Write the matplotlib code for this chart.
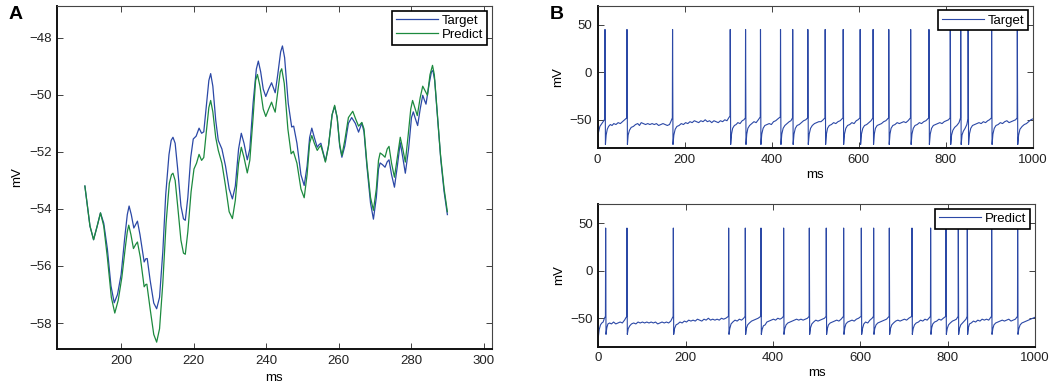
import matplotlib
matplotlib.use("Agg")
import matplotlib.pyplot as plt

plt.rcParams['font.family'] = ['Liberation Sans', 'DejaVu Sans']
plt.rcParams['font.size'] = 9.5

# ---- panel A: zoomed membrane potential (ms, mV) ----
a_target = [
    (190, -53.2), (190.6, -53.8), (191.4, -54.6), (192.4, -55.08), (193.4, -54.6), (194.3, -54.14),
    (195.2, -54.5), (196.2, -55.4), (197.2, -56.7), (198.1, -57.29), (199, -57.0), (200, -56.3),
    (201, -55.0), (201.7, -54.2), (202.2, -53.9), (202.8, -54.2), (203.5, -54.67), (204, -54.55),
    (204.5, -54.43), (205.2, -54.9), (206.35, -55.86), (206.8, -55.75), (207.2, -55.74), (208, -56.5),
    (209, -57.3), (209.8, -57.5), (210.6, -57.1), (211.5, -55.5), (212.3, -53.5), (213.2, -52.1),
    (213.8, -51.6), (214.3, -51.49), (214.9, -51.7), (215.6, -52.6), (216.5, -53.9), (217.2, -54.35),
    (217.7, -54.4), (218.4, -53.6), (219.2, -52.2), (219.9, -51.55), (220.7, -51.45), (221.5, -51.17),
    (222.2, -51.35), (222.8, -51.3), (223.5, -50.4), (224.2, -49.5), (224.7, -49.26), (225.3, -49.7),
    (226.1, -50.9), (226.8, -51.6), (227.8, -51.9), (228.8, -52.5), (229.8, -53.3), (230.7, -53.65),
    (231.5, -53.2), (232.4, -51.9), (233.15, -51.35), (233.9, -51.7), (234.8, -52.28), (235.5, -51.9),
    (236.4, -50.3), (237.3, -49.1), (237.85, -48.82), (238.5, -49.2), (239.2, -49.8), (239.9, -50.06),
    (240.7, -49.8), (241.5, -49.58), (242, -49.75), (242.5, -49.93), (243.2, -49.3), (244, -48.5),
    (244.5, -48.29), (245.1, -48.7), (246.1, -50.3), (247.05, -51.13), (247.6, -51.1), (248.5, -51.7),
    (249.6, -52.8), (250.5, -53.18), (251.3, -52.5), (252, -51.5), (252.6, -51.17), (253.3, -51.5),
    (254.1, -51.84), (254.6, -51.75), (255.1, -51.7), (255.7, -52.0), (256.35, -52.33), (257.2, -51.8),
    (258.2, -50.7), (258.9, -50.41), (259.6, -50.8), (260.3, -51.8), (260.9, -52.19), (261.7, -51.8),
    (262.7, -51.0), (263.6, -50.8), (264.6, -51.0), (265.5, -51.31), (266.4, -50.99), (267, -51.3),
    (267.8, -52.5), (268.8, -53.8), (269.6, -54.36), (270.4, -53.6), (271, -52.6), (271.45, -52.39),
    (272.1, -52.45), (272.8, -52.54), (273.4, -52.35), (273.9, -52.28), (274.6, -52.8), (275.4, -53.24),
    (276.2, -52.5), (277, -51.68), (277.7, -52.2), (278.4, -52.75), (279.3, -51.9), (280.1, -50.8),
    (280.6, -50.6), (281.2, -50.85), (281.8, -51.08), (282.5, -50.5), (283.2, -50.02), (283.7, -50.2),
    (284.1, -50.33), (285, -49.6), (285.6, -49.2), (286.0, -49.15), (286.5, -49.5), (287.3, -50.8),
    (288.2, -52.3), (289.1, -53.4), (290, -54.2),
]
a_predict = [
    (190, -53.2), (190.6, -53.8), (191.4, -54.6), (192.4, -55.08), (193.4, -54.6), (194.3, -54.14),
    (195.2, -54.6), (196.2, -55.7), (197.3, -57.1), (198.25, -57.65), (199.2, -57.2), (200.2, -56.4),
    (201.2, -55.3), (201.7, -54.8), (202.1, -54.57), (202.7, -54.9), (203.4, -55.39), (204, -55.25),
    (204.5, -55.16), (205.3, -55.7), (206.35, -56.73), (206.8, -56.65), (207.1, -56.64), (208, -57.5),
    (209, -58.4), (209.8, -58.67), (210.6, -58.2), (211.5, -56.6), (212.4, -54.5), (213.3, -53.1),
    (213.9, -52.8), (214.3, -52.75), (214.9, -53.0), (215.6, -53.9), (216.5, -55.1), (217.2, -55.55),
    (217.7, -55.59), (218.4, -54.8), (219.3, -53.4), (220.1, -52.6), (220.8, -52.4), (221.5, -52.09),
    (222.2, -52.3), (222.8, -52.2), (223.5, -51.3), (224.2, -50.45), (224.7, -50.2), (225.3, -50.6),
    (226.1, -51.5), (226.8, -51.95), (227.8, -52.4), (228.8, -53.2), (229.8, -54.1), (230.7, -54.34),
    (231.5, -53.7), (232.4, -52.4), (233.15, -51.84), (233.9, -52.2), (234.8, -52.74), (235.5, -52.3),
    (236.4, -50.8), (237.1, -49.5), (237.6, -49.29), (238.3, -49.7), (239.2, -50.5), (239.9, -50.76),
    (240.7, -50.5), (241.5, -50.26), (242, -50.45), (242.5, -50.61), (243.2, -49.9), (243.9, -49.2),
    (244.3, -49.09), (245, -49.6), (246, -51.2), (246.9, -52.07), (247.5, -51.98), (248.5, -52.4),
    (249.6, -53.3), (250.5, -53.61), (251.3, -52.8), (252, -51.7), (252.6, -51.43), (253.3, -51.7),
    (254.1, -51.95), (254.6, -51.85), (255.1, -51.78), (255.7, -52.05), (256.35, -52.36), (257.2, -51.8),
    (258.2, -50.7), (258.9, -50.37), (259.6, -50.8), (260.3, -51.75), (260.9, -52.13), (261.7, -51.6),
    (262.7, -50.8), (263.9, -50.58), (264.7, -50.85), (265.5, -51.1), (266.4, -50.97), (267, -51.2),
    (267.8, -52.4), (268.8, -53.6), (269.6, -54.05), (270.4, -53.3), (271, -52.3), (271.45, -52.04),
    (272.1, -52.1), (272.8, -52.19), (273.4, -51.9), (273.9, -51.81), (274.6, -52.4), (275.4, -52.89),
    (276.2, -52.2), (277, -51.49), (277.7, -51.9), (278.4, -52.36), (279.2, -51.4), (279.9, -50.5),
    (280.4, -50.2), (281, -50.45), (281.7, -50.73), (282.5, -50.1), (283.2, -49.7), (283.8, -49.85),
    (284.5, -50.02), (285.2, -49.3), (285.9, -48.97), (286.4, -49.3), (287.2, -50.6), (288.1, -52.1),
    (289.1, -53.3), (290, -54.1),
]

# ---- panel B: full 1 s traces (ms, mV) ----
b_target = [
    (0, -68), (2, -63), (5, -57), (8, -55), (11, -53), (14, -51), (16.3, -49), (16.8, 45), (17.8, -76),
    (19.5, -66), (22, -60), (25, -57), (29, -55), (33, -56), (37, -54), (42, -55), (47, -53), (52, -54),
    (57, -52), (62, -50), (66.8, -48), (67.3, 45), (68.3, -76), (70, -66), (73, -61), (77, -58), (82, -57),
    (87, -55), (92, -54), (96, -56), (100, -53), (105, -54), (110, -55), (115, -54), (120, -55), (125, -54),
    (130, -55), (135, -54), (140, -56), (145, -55), (150, -54), (155, -55), (160, -56), (165, -55),
    (168, -52), (171.5, -48), (172, 45), (173, -76), (175, -66), (178, -60), (182, -57), (187, -56),
    (192, -54), (197, -55), (202, -53), (207, -54), (212, -52), (217, -53), (222, -51), (227, -52),
    (232, -53), (237, -51), (242, -52), (247, -50), (252, -52), (257, -51), (262, -53), (267, -51),
    (272, -52), (277, -53), (282, -51), (287, -52), (292, -50), (297, -51), (301, -48), (304, -46),
    (304.5, 45), (305.5, -76), (307.5, -65), (310, -59), (314, -56), (318, -55), (322, -53), (327, -54),
    (332, -51), (336, -50), (339.2, -48), (339.7, 45), (340.7, -76), (342.5, -65), (345, -59), (349, -56),
    (354, -54), (359, -52), (364, -53), (369, -50), (373.5, -47), (374, 45), (375, -76), (377, -65),
    (380, -59), (384, -56), (389, -55), (394, -54), (399, -55), (404, -52), (409, -51), (414, -49),
    (419.5, -47), (420, 45), (421, -76), (423, -65), (426, -59), (430, -56), (435, -54), (440, -52),
    (444, -51), (447.5, -48), (448, 45), (449, -76), (451, -65), (454, -59), (458, -56), (463, -55),
    (468, -53), (473, -51), (478, -50), (482.3, -48), (482.8, 45), (483.8, -76), (486, -65), (489, -59),
    (493, -56), (498, -54), (503, -53), (508, -52), (513, -52), (518, -50), (522.1, -48), (522.6, 45),
    (523.6, -76), (525.5, -65), (528, -59), (532, -56), (537, -55), (542, -53), (547, -54), (552, -52),
    (557, -51), (563.5, -48), (564, 45), (565, -76), (567, -65), (570, -59), (574, -56), (579, -55),
    (584, -53), (589, -54), (594, -51), (598, -50), (602.5, -48), (603, 45), (604, -76), (606, -65),
    (609, -59), (613, -56), (618, -55), (623, -53), (628, -51), (632.2, -48), (632.7, 45), (633.7, -76),
    (635.5, -65), (638, -59), (642, -56), (647, -55), (652, -54), (657, -52), (662, -51), (668.2, -48),
    (668.7, 45), (669.7, -76), (671.5, -65), (674, -59), (678, -56), (683, -55), (688, -53), (693, -54),
    (698, -53), (703, -52), (708, -53), (713, -51), (718.5, -48), (719, 45), (720, -76), (722, -65),
    (725, -59), (729, -56), (734, -55), (739, -53), (744, -54), (749, -52), (754, -51), (760.5, -48),
    (761, 45), (762, -76), (764, -65), (767, -59), (771, -56), (776, -55), (781, -54), (786, -53),
    (791, -54), (796, -52), (801, -51), (806, -50), (809.5, -48), (810, 45), (811, -76), (813, -66),
    (816, -61), (820, -58), (825, -56), (830, -53), (833.5, -48), (834, 45), (835, -76), (837, -66),
    (840, -62), (844, -59), (848, -55), (850.5, -49), (851, 45), (852, -76), (854, -65), (857, -59),
    (861, -56), (866, -55), (871, -54), (876, -53), (881, -54), (886, -52), (891, -53), (896, -51),
    (900, -50), (904.5, -48), (905, 45), (906, -76), (908, -65), (911, -59), (915, -56), (920, -55),
    (925, -53), (930, -54), (935, -52), (940, -51), (945, -53), (950, -52), (955, -51), (960, -50),
    (963.5, -48), (964, 45), (965, -76), (967, -66), (970, -60), (975, -57), (980, -55), (985, -54),
    (990, -52), (995, -50), (1000, -49),
]
b_predict = [
    (0, -70), (2, -62), (5, -57), (8, -55), (11, -54), (14, -50), (16.3, -48), (16.8, 45), (17.6, -67),
    (19.5, -60), (22, -56), (26, -55), (30, -56), (35, -54), (40, -56), (45, -55), (50, -54), (55, -55),
    (60, -52), (65.1, -48), (65.6, 45), (66.4, -67), (68.5, -61), (72, -58), (76, -56), (81, -55),
    (86, -56), (91, -54), (96, -55), (101, -54), (106, -55), (111, -54), (116, -55), (121, -54),
    (126, -55), (131, -54), (136, -56), (141, -55), (146, -54), (151, -55), (156, -54), (161, -55),
    (166, -53), (171.3, -48), (171.8, 45), (172.6, -67), (174.5, -61), (178, -57), (182, -56), (187, -54),
    (192, -55), (197, -53), (202, -54), (207, -52), (212, -53), (217, -52), (222, -53), (227, -51),
    (232, -52), (237, -53), (242, -51), (247, -52), (252, -50), (257, -52), (262, -51), (267, -52),
    (272, -51), (277, -52), (282, -50), (287, -51), (292, -50), (298, -48), (298.5, 45), (299.3, -67),
    (301, -61), (304, -56), (308, -54), (313, -52), (318, -53), (323, -51), (328, -52), (333, -50),
    (336.1, -48), (336.6, 45), (337.4, -67), (339, -61), (342, -57), (346, -55), (351, -53), (356, -52),
    (361, -51), (366, -50), (372, -48), (372.5, 45), (373.3, -67), (375, -62), (378, -58), (382, -57),
    (386, -54), (391, -53), (396, -52), (401, -51), (406, -52), (411, -50), (416, -51), (420, -50),
    (424, -48), (424.4, 45), (425.2, -67), (427, -61), (430, -57), (434, -55), (439, -54), (444, -53),
    (449, -52), (454, -51), (459, -52), (464, -51), (469, -52), (474, -51), (479, -50), (482.8, -48),
    (483.2, 45), (484, -67), (486, -60), (489, -56), (493, -54), (498, -52), (503, -53), (508, -52),
    (513, -51), (518, -50), (521.6, -48), (522, 45), (522.8, -67), (524.5, -61), (527, -57), (531, -55),
    (536, -54), (541, -53), (546, -52), (551, -53), (556, -51), (561.4, -48), (561.8, 45), (562.6, -67),
    (564.5, -60), (567, -56), (571, -54), (576, -53), (581, -52), (586, -53), (591, -51), (596, -50),
    (601.9, -48), (602.3, 45), (603.1, -67), (605, -61), (608, -56), (612, -54), (617, -55), (622, -52),
    (627, -50), (630.1, -48), (630.5, 45), (631.3, -67), (633, -61), (636, -57), (640, -55), (645, -54),
    (650, -53), (655, -52), (660, -51), (666, -48), (666.4, 45), (667.2, -67), (669, -61), (672, -57),
    (676, -55), (681, -53), (686, -52), (691, -53), (696, -52), (701, -51), (706, -52), (711, -50),
    (717.9, -48), (718.3, 45), (719.1, -67), (721, -61), (724, -57), (728, -55), (733, -54), (738, -52),
    (743, -53), (748, -51), (753, -52), (757, -50), (760.6, -48), (761, 45), (761.8, -67), (763.5, -60),
    (766, -56), (770, -54), (775, -53), (780, -51), (785, -52), (790, -50), (795.8, -48), (796.2, 45),
    (797, -67), (799, -61), (802, -57), (806, -55), (811, -53), (816, -52), (820, -51), (824, -48),
    (824.4, 45), (825.2, -67), (827, -61), (830, -57), (834, -55), (838, -53), (842, -51), (844.6, -48),
    (845, 45), (845.8, -67), (847.5, -60), (850, -56), (854, -55), (859, -53), (864, -54), (869, -52),
    (874, -53), (879, -51), (884, -52), (889, -51), (894, -52), (900.4, -48), (900.8, 45), (901.6, -67),
    (903.5, -61), (906, -57), (910, -55), (915, -54), (920, -53), (925, -52), (930, -53), (935, -52),
    (940, -51), (945, -53), (950, -52), (955, -51), (959.9, -48), (960.3, 45), (961.1, -67), (963, -61),
    (966, -57), (970, -55), (975, -54), (980, -53), (985, -52), (990, -51), (995, -50), (1000, -49),
]

a_xticks = [200, 220, 240, 260, 280, 300]
a_yticks = [-58, -56, -54, -52, -50, -48]
b_xticks = [0, 200, 400, 600, 800, 1000]
b_yticks = [-50, 0, 50]

BLUE = '#2b48a6'
GREEN = '#1c8a3e'


def style(ax):
    ax.tick_params(direction='in', top=True, right=True, length=4, width=0.6,
                   labelsize=9.5, colors='#222222', pad=4)
    for side in ['bottom', 'left']:
        ax.spines[side].set_linewidth(1.4)
        ax.spines[side].set_color('#111111')
    for side in ['top', 'right']:
        ax.spines[side].set_linewidth(0.8)
        ax.spines[side].set_color('#444444')


def legend(ax):
    leg = ax.legend(loc='upper right', fancybox=False, framealpha=1, fontsize=9.5,
                    handlelength=3.2, borderaxespad=0.35, borderpad=0.3,
                    labelspacing=0.15, handletextpad=0.3)
    leg.get_frame().set_edgecolor('black')
    leg.get_frame().set_linewidth(1.2)


fig = plt.figure(figsize=(10.53, 3.87), dpi=100)

# A
axA = fig.add_axes([0.0541, 0.0982, 0.4131, 0.8863])
axA.plot([p[0] for p in a_target], [p[1] for p in a_target], color=BLUE, lw=0.9, label='Target')
axA.plot([p[0] for p in a_predict], [p[1] for p in a_predict], color=GREEN, lw=0.9, label='Predict')
axA.set_xlim(182.3, 302.3)
axA.set_ylim(-58.91, -46.89)
axA.set_xticks(a_xticks)
axA.set_yticks(a_yticks)
axA.set_yticklabels([f'\u2212{abs(v)}' for v in a_yticks])
axA.set_xlabel('ms', fontsize=9.5)
axA.set_ylabel('mV', fontsize=9.5)
style(axA)
legend(axA)
fig.text(0.008, 0.985, 'A', fontsize=14, fontweight='bold', va='top', ha='left')

# B top
axB1 = fig.add_axes([0.5676, 0.6168, 0.4134, 0.3685])
axB1.plot([p[0] for p in b_target], [p[1] for p in b_target], color=BLUE, lw=0.8, label='Target')
# B bottom
axB2 = fig.add_axes([0.5682, 0.1041, 0.4147, 0.368])
axB2.plot([p[0] for p in b_predict], [p[1] for p in b_predict], color=BLUE, lw=0.8, label='Predict')
for ax in (axB1, axB2):
    ax.set_xlim(0, 1000)
    ax.set_ylim(-80, 70)
    ax.set_xticks(b_xticks)
    ax.set_yticks(b_yticks)
    ax.set_yticklabels(['\u221250', '0', '50'])
    ax.set_xlabel('ms', fontsize=9.5, labelpad=2)
    ax.set_ylabel('mV', fontsize=9.5)
    style(ax)
    legend(ax)
fig.text(0.522, 0.985, 'B', fontsize=14, fontweight='bold', va='top', ha='left')

fig.savefig('out.png', dpi=100)
